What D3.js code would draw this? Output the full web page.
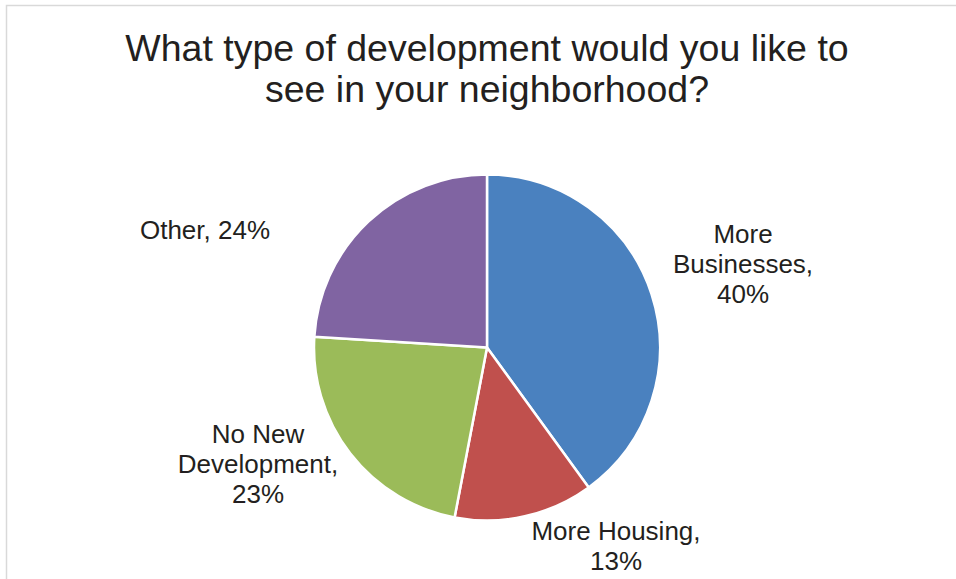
<!DOCTYPE html>
<html>
<head>
<meta charset="utf-8">
<script src="https://cdn.jsdelivr.net/npm/d3@7"></script>
<style>
  html, body { margin: 0; padding: 0; background: #fff; }
  svg { display: block; }
  text { font-family: "Liberation Sans", Arial, sans-serif; fill: #231f20; }
</style>
</head>
<body>
<svg id="chart" width="956" height="579"></svg>
<script>
// Survey answers, clockwise from 12 o'clock
const categories = ["More Businesses", "More Housing", "No New Development", "Other"];
const shares = [40, 13, 23, 24];
const colors = ["#4a81bf", "#c0504d", "#9bbb59", "#8064a2"];
const titleLines = ["What type of development would you like to", "see in your neighborhood?"];

// Label text lines and their anchor points (label block centre x, first baseline y)
const labelLines = [
  ["More", "Businesses,", "40%"],
  ["More Housing,", "13%"],
  ["No New", "Development,", "23%"],
  ["Other, 24%"]
];
const labelAnchors = [[743, 243], [616, 540], [258, 443], [205, 239]];

const W = 956, H = 579;
const cx = 487, cy = 347.5, radius = 173;

const svg = d3.select("#chart");

// chart-area frame
svg.append("rect")
  .attr("x", 6.5).attr("y", 5.5)
  .attr("width", W + 20).attr("height", H + 20)
  .attr("fill", "none")
  .attr("stroke", "#d9d9d9")
  .attr("stroke-width", 1.5);

// title
const title = svg.append("text")
  .attr("text-anchor", "middle")
  .style("font-size", "37.5px");
titleLines.forEach((t, i) => {
  title.append("tspan").attr("x", cx).attr("y", 61 + i * 41).text(t);
});

// pie
const pie = d3.pie().sort(null).value(d => d);
const arc = d3.arc().innerRadius(0).outerRadius(radius);
const color = d3.scaleOrdinal().domain(categories).range(colors);

const g = svg.append("g").attr("transform", `translate(${cx},${cy})`);
g.selectAll("path")
  .data(pie(shares))
  .join("path")
  .attr("d", arc)
  .attr("fill", (d, i) => color(categories[i]))
  .attr("stroke", "#fff")
  .attr("stroke-width", 2.5)
  .attr("stroke-linejoin", "round");

// data labels
labelLines.forEach((lines, i) => {
  const [lx, ly] = labelAnchors[i];
  const t = svg.append("text")
    .attr("text-anchor", "middle")
    .style("font-size", "26px");
  lines.forEach((s, j) => {
    t.append("tspan").attr("x", lx).attr("y", ly + j * 30).text(s);
  });
});
</script>
</body>
</html>
